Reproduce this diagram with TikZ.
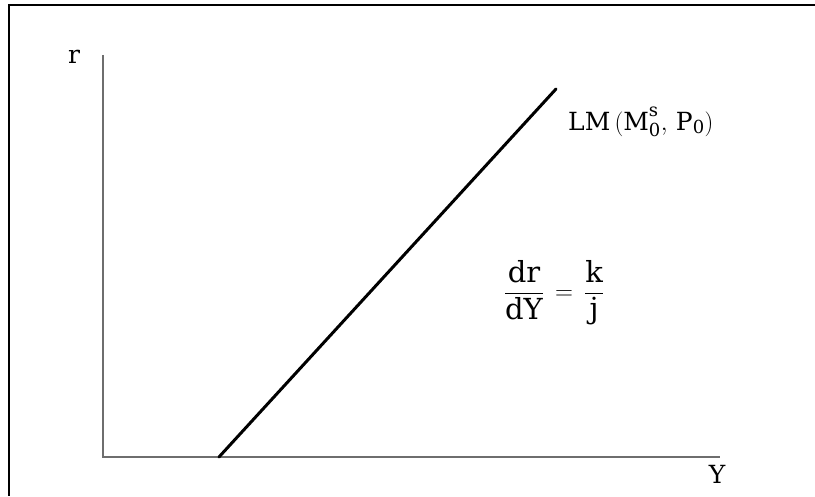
\documentclass[tikz,border=0pt]{standalone}
\usepackage{amsmath}
\usepackage{fontspec}
\setmainfont{DejaVu Serif}
\usepackage{tikz}
\usetikzlibrary{positioning}
\definecolor{axisgray}{HTML}{6E6E6E}
\DeclareMathSizes{25}{25}{18}{13}
\DeclareMathSizes{29}{29}{21}{15}

\begin{document}
\begin{tikzpicture}[
  x=1pt,y=1pt,
  font=\fontsize{25}{29}\selectfont,
  frame/.style={draw=black,line width=2.5pt},
  axis/.style={draw=axisgray,line width=1.6pt},
  lmline/.style={draw=black,line width=3pt,line cap=round},
  lbl/.style={inner sep=0pt},
  big/.style={font=\fontsize{29}{33}\selectfont}
]
\useasboundingbox (0,0) rectangle (815,496);

% frame (top and left edges only)
\coordinate (tl) at (9,491);
\coordinate (tr) at (815,491);
\coordinate (bl) at (9,0);
\draw[frame] (tr) -- (tl) -- (bl);

% axes
\coordinate (orig) at (103,39);
\coordinate (rtop) at (103,441);
\coordinate (yend) at (720,39);
\draw[axis] (rtop) -- (orig) -- (yend);

\node[lbl] (rlbl) at (74,439) {r};
\node[lbl,below=8pt of yend,xshift=-3pt] (ylbl) {Y};

% LM curve
\coordinate (lmlow) at (219,39);
\coordinate (lmhigh) at (556,407);
\draw[lmline] (lmlow) -- (lmhigh);

\node[lbl,anchor=west] (lmlbl) at (568,374) {$\mathrm{LM}\,(\mathrm{M}^{\mathrm{s}}_{\mathrm{0}},\,\mathrm{P}_{\mathrm{0}})$};

\node[lbl,big] (slope) at (554,203) {$\dfrac{\mathrm{dr}}{\mathrm{dY}}\,=\,\dfrac{\mathrm{k}}{\mathrm{j}}$};
\end{tikzpicture}
\end{document}
